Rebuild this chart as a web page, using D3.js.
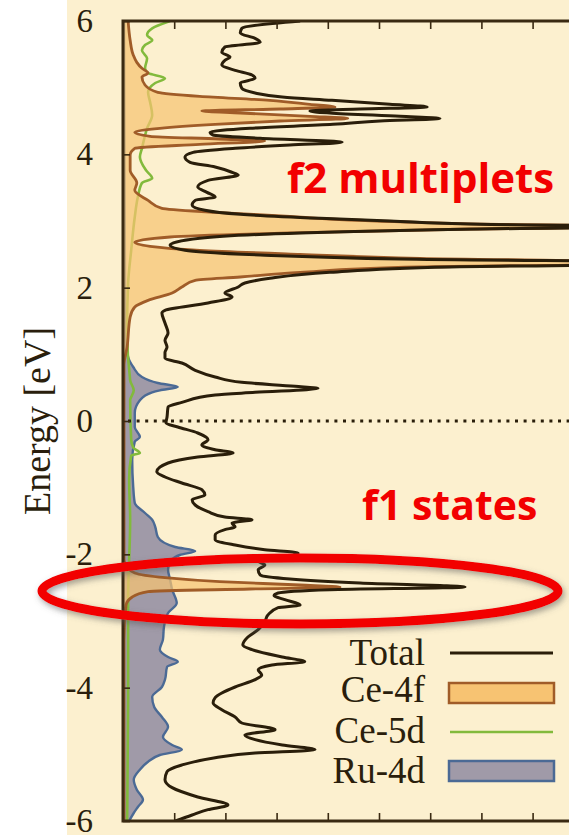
<!DOCTYPE html>
<html><head><meta charset="utf-8">
<script src="https://cdn.jsdelivr.net/npm/d3@7"></script>
<style>html,body{margin:0;padding:0;background:#fff;}svg{display:block}</style>
</head><body>
<svg id="chart" width="569" height="835"></svg>
<script>
// Energy axis ticks (eV) and DOS tick positions (states/eV)
const energyTicks = [-6, -4, -2, 0, 2, 4, 6];
const dosTicks = [1, 2, 3, 4, 5, 6, 7, 8, 9];

// Total DOS
const totalE = [6.00,5.89,5.82,5.74,5.68,5.61,5.53,5.46,5.41,5.34,5.26,5.19,5.14,5.07,4.99,4.92,4.86,4.81,4.75,4.71,4.68,4.65,4.62,4.57,4.54,4.50,4.45,4.39,4.33,4.29,4.24,4.18,4.14,4.09,4.03,3.96,3.88,3.81,3.73,3.69,3.61,3.51,3.43,3.36,3.31,3.24,3.16,3.10,3.04,3.00,2.95,2.92,2.88,2.82,2.74,2.64,2.56,2.49,2.43,2.37,2.31,2.23,2.14,2.07,2.01,1.92,1.86,1.77,1.66,1.62,1.47,1.32,1.21,1.11,1.03,0.94,0.87,0.76,0.66,0.58,0.52,0.49,0.43,0.39,0.28,0.21,0.06,-0.03,-0.09,-0.18,-0.28,-0.36,-0.43,-0.48,-0.54,-0.63,-0.76,-0.84,-0.93,-1.03,-1.11,-1.18,-1.26,-1.36,-1.44,-1.48,-1.53,-1.59,-1.63,-1.71,-1.78,-1.86,-1.93,-1.98,-2.04,-2.10,-2.16,-2.23,-2.31,-2.37,-2.43,-2.49,-2.53,-2.58,-2.62,-2.68,-2.76,-2.80,-2.91,-3.01,-3.13,-3.24,-3.36,-3.43,-3.54,-3.61,-3.66,-3.73,-3.81,-3.88,-3.99,-4.08,-4.15,-4.23,-4.33,-4.44,-4.53,-4.63,-4.71,-4.78,-4.86,-4.93,-4.98,-5.05,-5.16,-5.26,-5.38,-5.50,-5.64,-5.76,-5.83,-5.91,-6.00];
const totalDOS = [3.46,2.32,2.29,2.58,2.68,1.99,1.93,2.09,1.99,1.93,2.19,2.52,2.58,2.29,2.32,2.58,3.11,4.08,5.21,5.94,4.63,3.65,4.04,5.41,6.19,5.02,4.10,2.48,1.70,1.76,2.68,4.28,3.26,2.19,1.37,1.21,1.31,1.80,2.13,2.25,1.66,1.46,1.64,1.80,1.41,1.35,1.60,2.29,3.85,5.21,6.97,11.0,6.97,3.46,1.50,0.92,1.21,2.68,5.41,11.5,6.39,4.04,2.87,2.38,2.25,1.99,2.13,1.66,0.82,0.76,0.82,0.88,0.82,0.86,0.82,0.82,1.15,1.41,1.80,2.32,3.36,3.81,2.58,1.80,1.15,0.88,0.86,0.84,1.07,1.46,1.66,1.54,1.80,2.15,1.46,0.88,0.66,0.82,1.15,1.54,1.60,1.35,1.41,1.66,1.99,2.52,2.13,2.19,1.99,1.80,1.80,2.19,2.77,3.42,3.16,2.64,2.77,2.64,2.68,3.26,4.63,6.68,4.04,3.03,2.95,3.16,3.46,3.03,2.83,2.77,2.64,2.44,2.34,2.52,3.11,3.55,2.91,2.64,2.71,2.58,2.19,1.93,1.80,1.76,1.93,2.19,2.32,2.97,2.38,2.58,3.11,3.75,2.58,1.80,1.15,0.86,0.82,0.96,1.46,2.05,1.66,1.35,1.02];

// Ce-4f projected DOS
const ce4fE = [6.00,5.71,5.49,5.38,5.29,5.22,5.16,5.04,4.93,4.87,4.81,4.75,4.71,4.68,4.65,4.62,4.57,4.54,4.50,4.45,4.39,4.33,4.27,4.23,4.20,4.15,4.09,3.99,3.76,3.57,3.46,3.31,3.19,3.13,3.07,3.03,2.98,2.95,2.92,2.88,2.82,2.76,2.68,2.62,2.56,2.50,2.44,2.37,2.31,2.23,2.16,2.11,2.01,1.92,1.81,1.71,1.56,1.11,0.84,0.31,-2.08,-2.19,-2.28,-2.35,-2.41,-2.46,-2.49,-2.52,-2.56,-2.64,-2.76,-3.28,-6.00];
const ce4fDOS = [0.10,0.14,0.20,0.27,0.37,0.49,0.37,0.43,0.68,1.50,2.87,3.65,4.14,3.07,1.54,2.29,3.65,4.39,3.07,1.80,0.72,0.23,0.53,1.89,2.77,1.50,0.23,0.14,0.14,0.27,0.23,0.49,0.76,1.80,3.26,4.04,5.80,7.36,10.5,6.78,3.26,0.92,0.23,0.53,1.50,3.46,5.80,11.0,5.80,3.46,2.29,1.41,1.15,0.96,0.49,0.23,0.14,0.08,0.02,0.02,0.02,0.08,0.23,0.82,1.89,3.46,4.24,2.48,0.49,0.18,0.06,0.02,0.02];

// Ce-5d projected DOS
const ce5dE = [6.00,5.89,5.79,5.71,5.64,5.56,5.44,5.29,5.22,5.14,5.07,4.93,4.78,4.59,4.39,4.09,3.96,3.76,3.64,3.57,3.36,3.06,2.56,2.07,1.36,0.61,0.46,0.31,-0.28,-0.40,-0.48,-0.52,-0.88,-1.48,-2.68,-4.18,-6.00];
const ce5dDOS = [0.92,0.57,0.47,0.57,0.43,0.37,0.47,0.43,0.49,0.82,0.63,0.49,0.53,0.57,0.47,0.37,0.33,0.45,0.57,0.37,0.29,0.23,0.16,0.10,0.08,0.14,0.21,0.14,0.16,0.20,0.33,0.16,0.12,0.14,0.10,0.10,0.08];

// Ru-4d projected DOS
const ru4dE = [6.00,1.81,1.21,0.96,0.81,0.66,0.57,0.51,0.46,0.43,0.31,0.12,-0.09,-0.24,-0.31,-0.58,-0.99,-1.23,-1.38,-1.48,-1.59,-1.74,-1.89,-1.95,-2.01,-2.08,-2.23,-2.38,-2.53,-2.73,-2.88,-3.09,-3.28,-3.43,-3.54,-3.61,-3.69,-3.88,-3.99,-4.14,-4.29,-4.44,-4.59,-4.74,-4.86,-4.93,-5.01,-5.11,-5.23,-5.38,-5.53,-5.68,-5.79,-5.88,-6.00];
const ru4dDOS = [0.02,0.04,0.06,0.10,0.20,0.37,0.68,1.07,0.72,0.57,0.33,0.23,0.23,0.33,0.23,0.18,0.20,0.23,0.43,0.57,0.63,0.68,1.02,1.41,1.11,0.96,0.88,0.92,0.96,1.05,0.88,0.80,0.78,0.72,0.88,1.07,0.86,0.82,0.76,0.57,0.61,0.76,0.88,0.78,0.96,1.15,0.72,0.49,0.33,0.21,0.27,0.39,0.29,0.21,0.12];

const legendLabels = ["Total", "Ce-4f", "Ce-5d", "Ru-4d"];

const colors = {
  cream: "#fcf0cf",
  frame: "#3a2a12",
  total: "#2a1e0a",
  fFill: "#f7c372",
  fLine: "#a05c28",
  dLine: "#82ba3c",
  ruFill: "#a09aa8",
  ruLine: "#4b6a95",
  red: "#f20000"
};

const svg = d3.select("#chart");
const W = 569, H = 835;
const plot = {left: 123, top: 21, bottom: 821};

// page backgrounds
svg.append("rect").attr("width", W).attr("height", H).attr("fill", "#ffffff");
svg.append("rect").attr("x", 67).attr("width", W - 67).attr("height", H).attr("fill", colors.cream);

const x = d3.scaleLinear().domain([0, 10]).range([plot.left, plot.left + 512]);
const y = d3.scaleLinear().domain([-6, 6]).range([plot.bottom, plot.top]);

const defs = svg.append("defs");
defs.append("clipPath").attr("id", "plotClip")
  .append("rect").attr("x", x(0)).attr("y", y(6)).attr("width", x(10) - x(0)).attr("height", y(-6) - y(6));
const shadow = defs.append("filter").attr("id", "ringShadow")
  .attr("x", "-10%").attr("y", "-50%").attr("width", "120%").attr("height", "200%");
shadow.append("feDropShadow").attr("dx", 2).attr("dy", 3).attr("stdDeviation", 3)
  .attr("flood-color", "#555").attr("flood-opacity", 0.55);

const g = svg.append("g").attr("clip-path", "url(#plotClip)");

const pts = (E, D) => d3.zip(E, D);
const line = d3.line().x(d => x(d[1])).y(d => y(d[0])).curve(d3.curveMonotoneY);
const area = d3.area().y(d => y(d[0])).x0(x(0)).x1(d => x(d[1])).curve(d3.curveMonotoneY);

// Ru-4d
g.append("path").datum(pts(ru4dE, ru4dDOS)).attr("d", area).attr("fill", colors.ruFill);
g.append("path").datum(pts(ru4dE, ru4dDOS)).attr("d", line)
  .attr("fill", "none").attr("stroke", colors.ruLine).attr("stroke-width", 2.4);

// Ce-5d
g.append("path").datum(pts(ce5dE, ce5dDOS)).attr("d", line)
  .attr("fill", "none").attr("stroke", colors.dLine).attr("stroke-width", 2.6);

// Ce-4f
g.append("path").datum(pts(ce4fE, ce4fDOS)).attr("d", area)
  .attr("fill", colors.fFill).attr("fill-opacity", 0.72);
g.append("path").datum(pts(ce4fE, ce4fDOS)).attr("d", line)
  .attr("fill", "none").attr("stroke", colors.fLine).attr("stroke-width", 2.8);

// Total
g.append("path").datum(pts(totalE, totalDOS)).attr("d", line)
  .attr("fill", "none").attr("stroke", colors.total).attr("stroke-width", 3)
  .attr("stroke-linejoin", "round");

// Fermi level
g.append("line").attr("x1", x(0) + 5).attr("x2", x(10)).attr("y1", y(0)).attr("y2", y(0))
  .attr("stroke", colors.total).attr("stroke-width", 3).attr("stroke-dasharray", "3,5.6");

// axes
const styleAxis = sel => {
  sel.select(".domain").remove();
  sel.selectAll(".tick line").attr("stroke", colors.frame).attr("stroke-width", 1.6);
  sel.selectAll("text").attr("fill", "#2a1e0c")
    .style("font-family", "'Liberation Serif', serif").style("font-size", "33px");
};
svg.append("g").attr("transform", `translate(${x(0)},0)`)
  .call(d3.axisLeft(y).tickValues(energyTicks).tickSize(-7).tickPadding(30).tickFormat(d => String(d)))
  .call(styleAxis);
svg.append("g").attr("transform", `translate(0,${y(-6)})`)
  .call(d3.axisBottom(x).tickValues(dosTicks).tickSize(-8).tickFormat(""))
  .call(styleAxis);
svg.append("g").attr("transform", `translate(0,${y(6)})`)
  .call(d3.axisTop(x).tickValues(dosTicks).tickSize(-8).tickFormat(""))
  .call(styleAxis);

// frame
svg.append("rect").attr("x", x(0)).attr("y", y(6)).attr("width", x(10) - x(0)).attr("height", y(-6) - y(6))
  .attr("fill", "none").attr("stroke", colors.frame).attr("stroke-width", 3);

// y-axis title
svg.append("text").attr("transform", `translate(50,${y(0)}) rotate(-90)`)
  .attr("text-anchor", "middle")
  .style("font-family", "'Liberation Serif', serif").style("font-size", "38px")
  .attr("fill", "#2a1e0c").text("Energy [eV]");

// legend
const legendRows = [665, 702, 743, 783];
const legend = svg.append("g");
legendLabels.forEach((lab, i) => {
  legend.append("text").attr("x", 425).attr("y", legendRows[i]).attr("text-anchor", "end")
    .style("font-family", "'Liberation Serif', serif").style("font-size", "37px")
    .attr("fill", "#2a1e0c").text(lab);
});
legend.append("line").attr("x1", 450).attr("x2", 553).attr("y1", 653).attr("y2", 653)
  .attr("stroke", colors.total).attr("stroke-width", 3);
legend.append("rect").attr("x", 449).attr("y", 683).attr("width", 105).attr("height", 20)
  .attr("fill", colors.fFill).attr("stroke", colors.fLine).attr("stroke-width", 2.5);
legend.append("line").attr("x1", 450).attr("x2", 553).attr("y1", 732).attr("y2", 732)
  .attr("stroke", colors.dLine).attr("stroke-width", 2.5);
legend.append("rect").attr("x", 449).attr("y", 761).attr("width", 105).attr("height", 20)
  .attr("fill", colors.ruFill).attr("stroke", colors.ruLine).attr("stroke-width", 2.5);

// annotations
const note = (tx, ty, s, fs) => svg.append("text").attr("x", tx).attr("y", ty)
  .style("font-family", "'Open Sans', sans-serif").style("font-weight", 700).style("font-size", fs + "px")
  .attr("fill", colors.red).text(s);
note(287, 193, "f2 multiplets", 42);
note(362, 520, "f1 states", 41);

svg.append("ellipse").attr("cx", 300).attr("cy", y(-2.49) + 4).attr("rx", 258).attr("ry", 33)
  .attr("fill", "none").attr("stroke", colors.red).attr("stroke-width", 9)
  .attr("filter", "url(#ringShadow)");
</script>
</body></html>
